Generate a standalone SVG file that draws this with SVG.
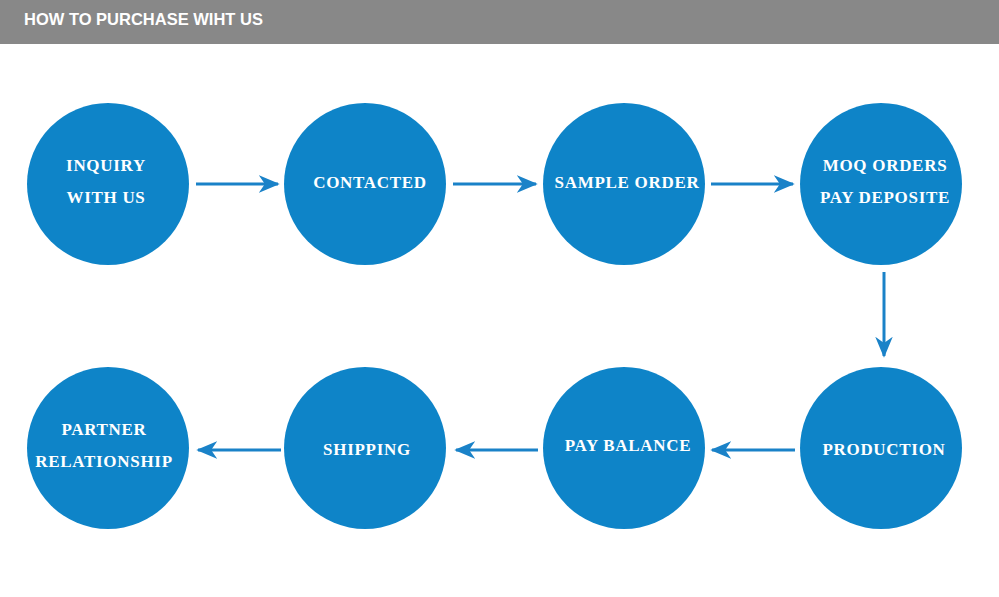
<svg xmlns="http://www.w3.org/2000/svg" width="999" height="597" viewBox="0 0 999 597">
<defs>
<style>
.node{fill:#0e84c8}
.lbl{font-family:"Liberation Serif","DejaVu Serif",serif;font-weight:bold;font-size:17px;fill:#fff;text-anchor:middle;letter-spacing:0.7px}
.edge{stroke:#1a82c8;stroke-width:3;fill:none;marker-end:url(#ah)}
</style>
<marker id="ah" viewBox="0 0 12 10" refX="11" refY="5" markerWidth="7" markerHeight="6.5" orient="auto" markerUnits="strokeWidth">
<path d="M0,0 L12,5 L0,10 L3.5,5 Z" fill="#1a82c8"/>
</marker>
</defs>
<rect x="0" y="0" width="999" height="597" fill="#fff"/>
<rect x="0" y="0" width="999" height="44" fill="#888"/>
<text x="24" y="25" font-family="Liberation Sans,Arial,sans-serif" font-weight="bold" font-size="16.5" fill="#fff">HOW TO PURCHASE WIHT US</text>
<g id="connectors">
<line class="edge" x1="196" y1="184" x2="278" y2="184"/>
<line class="edge" x1="453" y1="184" x2="536" y2="184"/>
<line class="edge" x1="711" y1="184" x2="793" y2="184"/>
<line class="edge" x1="884" y1="272" x2="884" y2="356"/>
<line class="edge" x1="795" y1="450" x2="712" y2="450"/>
<line class="edge" x1="538" y1="450" x2="456" y2="450"/>
<line class="edge" x1="281" y1="450" x2="198" y2="450"/>
</g>
<g id="n1"><circle class="node" cx="108" cy="184" r="81"/><text class="lbl" x="106" y="171">INQUIRY</text><text class="lbl" x="106" y="203">WITH US</text></g>
<g id="n2"><circle class="node" cx="365" cy="184" r="81"/><text class="lbl" x="370" y="188">CONTACTED</text></g>
<g id="n3"><circle class="node" cx="624" cy="184" r="81"/><text class="lbl" x="627" y="188">SAMPLE ORDER</text></g>
<g id="n4"><circle class="node" cx="881" cy="184" r="81"/><text class="lbl" x="885" y="171">MOQ ORDERS</text><text class="lbl" x="885" y="203">PAY DEPOSITE</text></g>
<g id="n5"><circle class="node" cx="881" cy="448" r="81"/><text class="lbl" x="884" y="455">PRODUCTION</text></g>
<g id="n6"><circle class="node" cx="624" cy="448" r="81"/><text class="lbl" x="628" y="451">PAY BALANCE</text></g>
<g id="n7"><circle class="node" cx="365" cy="448" r="81"/><text class="lbl" x="367" y="455">SHIPPING</text></g>
<g id="n8"><circle class="node" cx="108" cy="448" r="81"/><text class="lbl" x="104" y="435">PARTNER</text><text class="lbl" x="104" y="467">RELATIONSHIP</text></g>
</svg>
